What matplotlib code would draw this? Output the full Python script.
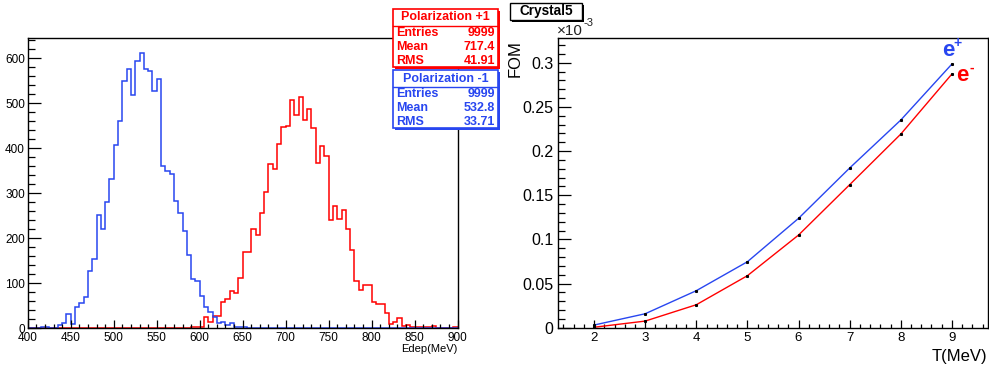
import numpy as np
import matplotlib
matplotlib.use('Agg')
import matplotlib.pyplot as plt
from matplotlib.patches import Rectangle
from matplotlib.ticker import MultipleLocator

plt.rcParams['font.family'] = ['Liberation Sans', 'DejaVu Sans']

# histogram: 5 MeV bins from 400 to 900
edges = np.arange(400, 905, 5)
blue_counts = [0, 0, 1, 2, 2, 0, 1, 7, 11, 32,
               10, 47, 57, 70, 127, 155, 251, 220, 280, 331,
               408, 461, 549, 576, 517, 593, 612, 575, 571, 526,
               553, 360, 350, 343, 282, 255, 215, 162, 109, 104,
               72, 48, 37, 24, 12, 15, 7, 12, 3, 3,
               2, 1] + [0] * 48
red_counts = [0] * 37 + [1, 2, 2,
              2, 24, 13, 27, 28, 58, 65, 82, 79, 111,
              170, 170, 220, 207, 255, 303, 364, 353, 409, 448,
              449, 508, 473, 514, 462, 486, 444, 368, 405, 382,
              240, 272, 243, 263, 220, 173, 106, 85, 96, 96,
              58, 55, 54, 33, 9, 13, 22, 5, 8, 2,
              3, 3, 3, 2, 4, 0, 0, 0, 1, 3]

red_stats = ["Polarization +1", "9999", "717.4", "41.91"]
blue_stats = ["Polarization -1", "9999", "532.8", "33.71"]
stat_names = ["Entries", "Mean", "RMS"]

# FOM vs T
T = [2, 3, 4, 5, 6, 7, 8, 9]
fom_pos = [0.003, 0.0158, 0.0419, 0.0747, 0.1238, 0.1808, 0.2351, 0.2985]
fom_neg = [0.0005, 0.0075, 0.026, 0.0589, 0.1049, 0.1619, 0.2192, 0.2872]

BLUE = '#2846f0'
RED = '#ff0000'

W, H = 989, 368
fig = plt.figure(figsize=(W / 100, H / 100), dpi=100)


def px_axes(x0, y0, x1, y1):
    return fig.add_axes([x0 / W, 1 - y1 / H, (x1 - x0) / W, (y1 - y0) / H])


def style(ax, ymaj_len=9.4, ymin_len=5, xmaj_len=5.8, xmin_len=3):
    for s in ax.spines.values():
        s.set_linewidth(1.0)
    ax.tick_params(which='both', direction='in', top=False, right=False, width=0.9)
    ax.tick_params(axis='y', which='major', length=ymaj_len)
    ax.tick_params(axis='y', which='minor', length=ymin_len)
    ax.tick_params(axis='x', which='major', length=xmaj_len)
    ax.tick_params(axis='x', which='minor', length=xmin_len)


# left: Edep histograms
ax1 = px_axes(27.7, 38.3, 457.7, 328.3)
ax1.stairs(red_counts, edges, color=RED, lw=1.1, baseline=None)
ax1.stairs(blue_counts, edges, color=BLUE, lw=1.1, baseline=None)
ax1.set_xlim(400, 900)
ax1.set_ylim(0, 644)
ax1.xaxis.set_major_locator(MultipleLocator(50))
ax1.xaxis.set_minor_locator(MultipleLocator(10))
ax1.yaxis.set_major_locator(MultipleLocator(100))
ax1.yaxis.set_minor_locator(MultipleLocator(20))
style(ax1)
ax1.tick_params(axis='both', labelsize=8.5)
ax1.tick_params(axis='x', pad=3)
ax1.tick_params(axis='y', pad=2)

# right: FOM
ax2 = px_axes(558.3, 37.7, 987.7, 327.7)
ax2.plot(T, fom_neg, color=RED, lw=1.0)
ax2.plot(T, fom_pos, color=BLUE, lw=1.0)
ax2.plot(T, fom_neg, ls='none', marker='s', ms=1.2, color='black')
ax2.plot(T, fom_pos, ls='none', marker='s', ms=1.2, color='black')
ax2.set_xlim(1.3, 9.7)
ax2.set_ylim(0, 0.3283)
ax2.xaxis.set_major_locator(MultipleLocator(1))
ax2.xaxis.set_minor_locator(MultipleLocator(0.2))
ax2.yaxis.set_major_locator(MultipleLocator(0.05))
ax2.yaxis.set_minor_locator(MultipleLocator(0.01))
ax2.yaxis.set_major_formatter(plt.FuncFormatter(lambda v, p: '0' if v == 0 else ('%.2f' % v).rstrip('0')))
style(ax2)
ax2.tick_params(axis='y', labelsize=11.5, pad=3.5)
ax2.tick_params(axis='x', labelsize=9.5, pad=3)

# overlay in pixel coordinates for boxes and labels
ov = fig.add_axes([0, 0, 1, 1], zorder=10)
ov.set_xlim(0, W)
ov.set_ylim(H, 0)
ov.axis('off')
ov.patch.set_alpha(0)


def stats_box(y0, color, vals):
    x0, x1 = 393, 498
    h = 58
    ov.add_patch(Rectangle((x0 + 2, y0 + 2), x1 - x0, h, facecolor=color, edgecolor='none'))
    ov.add_patch(Rectangle((x0, y0), x1 - x0, h, facecolor='white', edgecolor=color, lw=1.2))
    ov.plot([x0, x1], [y0 + 17, y0 + 17], color=color, lw=1.0)
    ov.text((x0 + x1) / 2, y0 + 9, vals[0], color=color, fontsize=9.0, fontweight='bold',
            ha='center', va='center')
    for i, name in enumerate(stat_names):
        yy = y0 + 24.5 + i * 14
        ov.text(x0 + 3, yy, name, color=color, fontsize=9.0, fontweight='bold', ha='left', va='center')
        ov.text(x1 - 3, yy, vals[i + 1], color=color, fontsize=9.0, fontweight='bold', ha='right', va='center')


stats_box(8.5, RED, red_stats)
stats_box(69.5, BLUE, blue_stats)

# Crystal5 title box
ov.add_patch(Rectangle((512, 5), 72, 17, facecolor='black', edgecolor='none'))
ov.add_patch(Rectangle((510, 3), 72, 17, facecolor='white', edgecolor='black', lw=1.0))
ov.text(546, 11.5, "Crystal5", fontsize=9.8, fontweight='bold', ha='center', va='center')

# axis labels
ov.text(457, 349, "Edep(MeV)", fontsize=8, ha='right', va='center')
ov.text(987, 357, "T(MeV)", fontsize=12, ha='right', va='center')
ov.text(515, 40, "FOM", fontsize=12, rotation=90, ha='center', va='top')
ov.text(557, 35, "\u00d710", fontsize=11, ha='left', va='baseline', color='#222222')
ov.text(583, 26, "-3", fontsize=8, ha='left', va='baseline', color='#222222')

# e+ / e- labels
ov.text(948, 56, "e", fontsize=16, fontweight='bold', color=BLUE, ha='center', va='baseline')
ov.text(958, 43, "+", fontsize=10, fontweight='bold', color=BLUE, ha='center', va='center')
ov.text(962, 81, "e", fontsize=16, fontweight='bold', color=RED, ha='center', va='baseline')
ov.text(972, 68, "-", fontsize=10, fontweight='bold', color=RED, ha='center', va='center')

fig.savefig('out.png', dpi=100)
